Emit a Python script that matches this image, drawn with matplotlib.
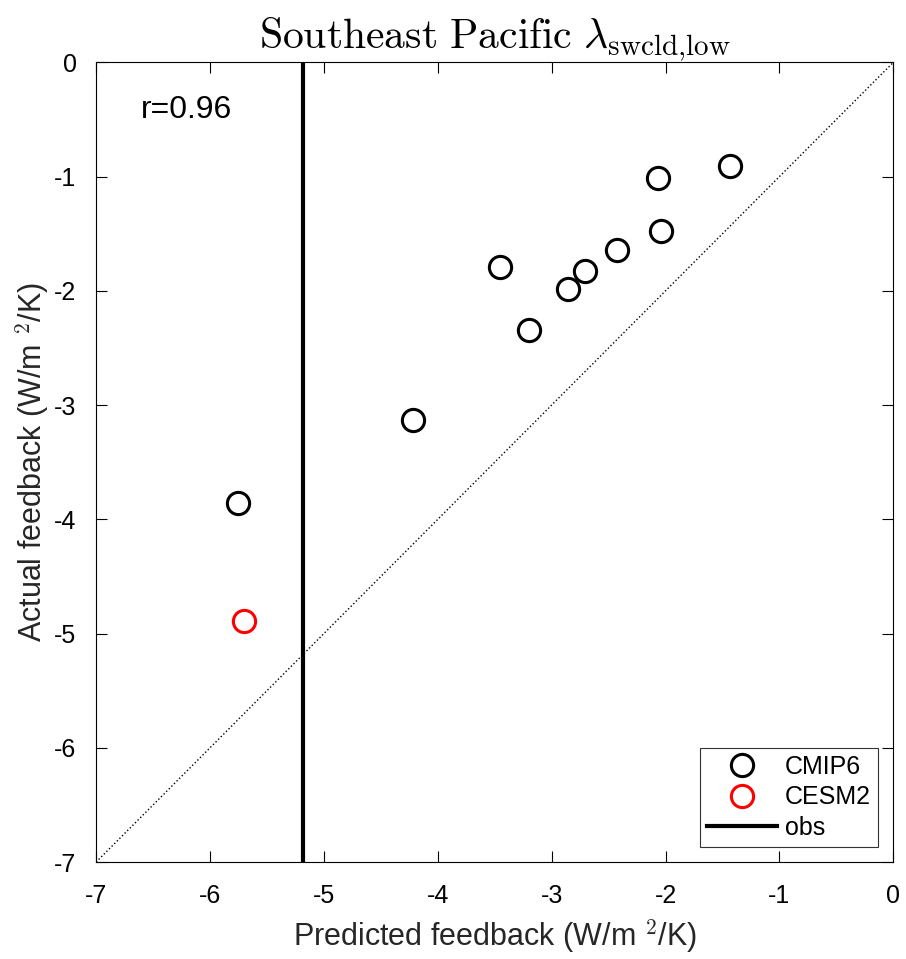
import numpy as np
import matplotlib.pyplot as plt

plt.rcParams['font.family'] = ['Liberation Sans', 'DejaVu Sans']
plt.rcParams['mathtext.fontset'] = 'cm'
plt.rcParams['axes.unicode_minus'] = False

# CMIP6 models: predicted vs actual low-cloud SW feedback
pred_cmip6 = [-5.75, -4.22, -3.45, -3.20, -2.86, -2.71, -2.43, -2.07, -2.04, -1.43]
act_cmip6 = [-3.86, -3.13, -1.79, -2.34, -1.98, -1.83, -1.64, -1.01, -1.48, -0.91]
pred_cesm2 = [-5.70]
act_cesm2 = [-4.89]
obs_x = -5.18
r_text = 'r=0.96'

fig = plt.figure(figsize=(9.06, 9.59), dpi=100)
ax = fig.add_axes([0.106, 0.101, 0.880, 0.834])

ax.plot([-7, 0], [-7, 0], ':', color='k', lw=1)
ax.plot(pred_cmip6, act_cmip6, 'o', ms=16, mfc='none', mec='k', mew=2.2, label='CMIP6')
ax.plot(pred_cesm2, act_cesm2, 'o', ms=16, mfc='none', mec='r', mew=2.2, label='CESM2')
ax.axvline(obs_x, color='k', lw=3, label='obs')

ax.text(-6.61, -0.42, r_text, fontsize=23, ha='left', va='center')

ax.set_xlim(-7, 0)
ax.set_ylim(-7, 0)
ax.set_xticks(np.arange(-7, 1))
ax.set_yticks(np.arange(-7, 1))
ax.tick_params(direction='in', top=True, right=True, labelsize=18, length=8, width=0.8)
ax.tick_params(axis='x', pad=16)
ax.tick_params(axis='y', pad=14)
for s in ax.spines.values():
    s.set_linewidth(0.8)

ax.set_xlabel('Predicted feedback (W/m $^2$/K)', fontsize=22, color='#262626', labelpad=6)
ax.set_ylabel('Actual feedback (W/m $^2$/K)', fontsize=22, color='#262626', labelpad=2)
ax.set_title(r'$\mathrm{Southeast\ Pacific}\ \lambda_{\mathrm{swcld{,}low}}$', fontsize=30, pad=10)

leg = ax.legend(loc='lower right', fontsize=18, fancybox=False, edgecolor='#333333',
                framealpha=1, handlelength=2.8, handletextpad=0.3, borderpad=0.3,
                labelspacing=0.25, borderaxespad=0.6)
leg.get_frame().set_linewidth(0.8)

fig.savefig('out.png', dpi=100)
